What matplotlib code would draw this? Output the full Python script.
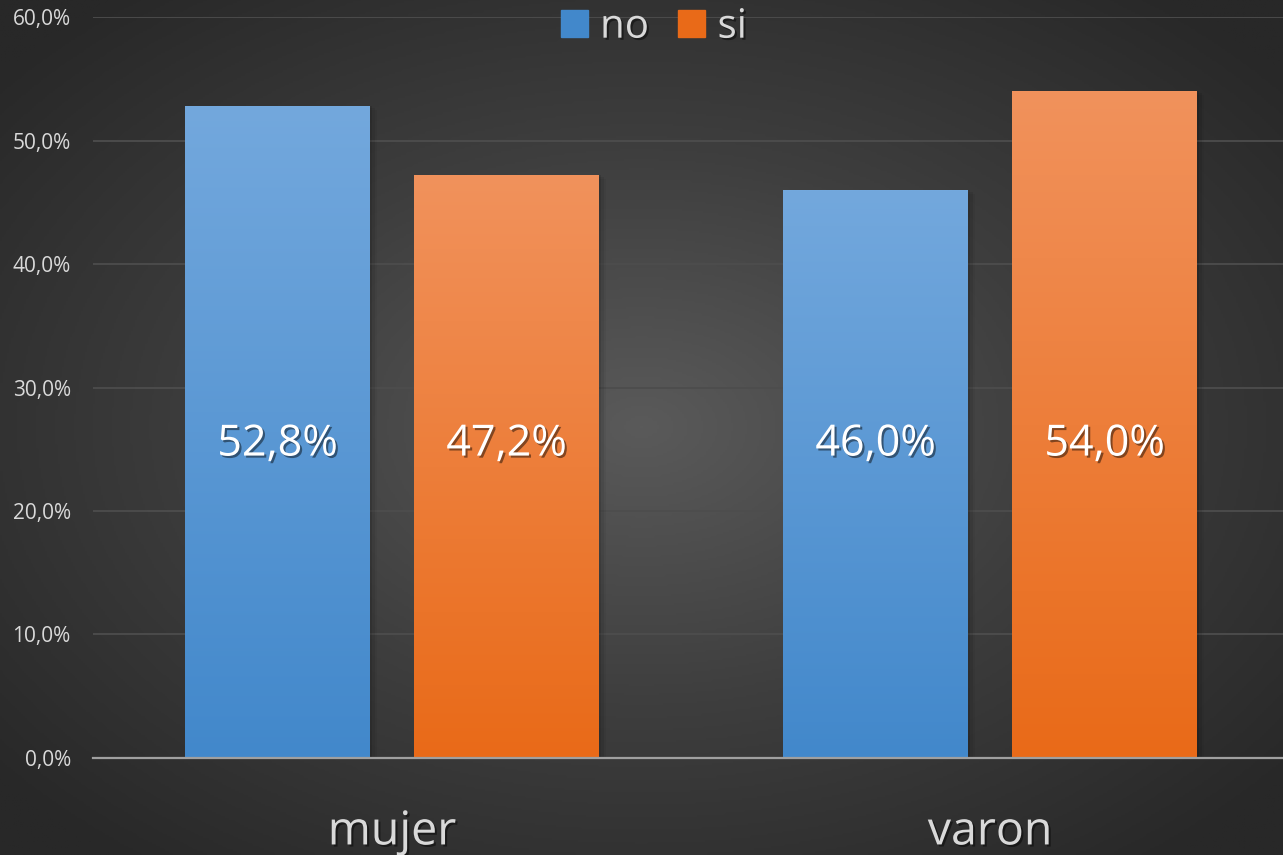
import numpy as np
import matplotlib.pyplot as plt
import matplotlib.patheffects as pe
from matplotlib.colors import LinearSegmentedColormap
from matplotlib.patches import Patch
from matplotlib.ticker import FuncFormatter

plt.rcParams['font.family'] = ['Open Sans', 'DejaVu Sans']

categories = ["mujer", "varon"]
series_names = ["no", "si"]
values_no = [52.8, 46.0]
values_si = [47.2, 54.0]
y_ticks = [0, 10, 20, 30, 40, 50, 60]

blue_top, blue_bot = "#73A8DD", "#4288CB"
orange_top, orange_bot = "#F1925C", "#E96A18"
text_col = "#D9D9D9"

fig = plt.figure(figsize=(12.83, 8.55), dpi=100)

# radial background
bg = fig.add_axes([0, 0, 1, 1], zorder=-10)
yy, xx = np.mgrid[0:1:400j, 0:1:600j]
r = np.sqrt(((xx - 0.5) / 0.65) ** 2 + ((yy - 0.5) / 0.65) ** 2)
r = np.clip(r, 0, 1)
bg_cmap = LinearSegmentedColormap.from_list("bg", ["#5a5a5a", "#3e3e3e", "#282828"])
bg.imshow(r, cmap=bg_cmap, aspect="auto", extent=[0, 1, 0, 1], vmin=0, vmax=1)
bg.axis("off")

ax = fig.add_axes([0.0725, 0.1135, 0.9322, 0.8665])
ax.set_facecolor("none")

x = np.arange(len(categories))
width = 0.309
offset = 0.1915


def gradient_bars(bars, top, bot):
    cmap = LinearSegmentedColormap.from_list("g", [bot, top])
    grad = np.linspace(0, 1, 256).reshape(-1, 1)
    for b in bars:
        bx, by, bw, bh = b.get_x(), b.get_y(), b.get_width(), b.get_height()
        # soft shadow
        for i, a in enumerate([0.10, 0.07, 0.04]):
            ax.add_patch(plt.Rectangle((bx + 0.004 * (i + 1), by), bw, bh - 0.15 * i,
                                       color="black", alpha=a, zorder=1, lw=0))
        ax.imshow(grad, cmap=cmap, origin="lower", aspect="auto",
                  extent=[bx, bx + bw, by, by + bh], zorder=2)
        b.set_visible(False)


bars_no = ax.bar(x - offset, values_no, width, label=series_names[0])
bars_si = ax.bar(x + offset, values_si, width, label=series_names[1])
gradient_bars(bars_no, blue_top, blue_bot)
gradient_bars(bars_si, orange_top, orange_bot)

shadow = [pe.withSimplePatchShadow(offset=(1.5, -1.5), shadow_rgbFace="black", alpha=0.45)]
for bars, vals in [(bars_no, values_no), (bars_si, values_si)]:
    for b, v in zip(bars, vals):
        ax.text(b.get_x() + b.get_width() / 2, 25.4, f"{v:.1f}%".replace(".", ","),
                ha="center", va="center", color="white", fontsize=31,
                zorder=5, path_effects=shadow)

ax.set_xlim(-0.5, 1.5)
ax.set_ylim(0, 60)
ax.set_yticks(y_ticks)
ax.yaxis.set_major_formatter(FuncFormatter(lambda v, p: f"{v:.1f}%".replace(".", ",")))
ax.tick_params(axis="y", length=0, colors=text_col, labelsize=15, pad=16)
ax.set_xticks(x)
ax.set_xticklabels(categories)
ax.tick_params(axis="x", length=0, colors=text_col, labelsize=33.5, pad=36)
for lab in ax.get_xticklabels():
    lab.set_path_effects(shadow)
ax.grid(axis="y", color="#4d4d4d", linewidth=1.3, zorder=0)
ax.set_axisbelow(True)
for s in ["top", "right", "left"]:
    ax.spines[s].set_visible(False)
ax.spines["bottom"].set_color("#a0a0a0")
ax.spines["bottom"].set_linewidth(1.6)
ax.spines["bottom"].set_zorder(6)

handles = [Patch(color=blue_bot), Patch(color=orange_bot)]
leg = fig.legend(handles, series_names, loc="upper center", bbox_to_anchor=(0.5095, 1.034),
                 ncol=2, frameon=False, fontsize=29, handlelength=0.68, handleheight=0.68,
                 handletextpad=0.3, columnspacing=0.72, labelcolor=text_col)
for t in leg.get_texts():
    t.set_path_effects(shadow)

fig.savefig("out.png", dpi=100)
